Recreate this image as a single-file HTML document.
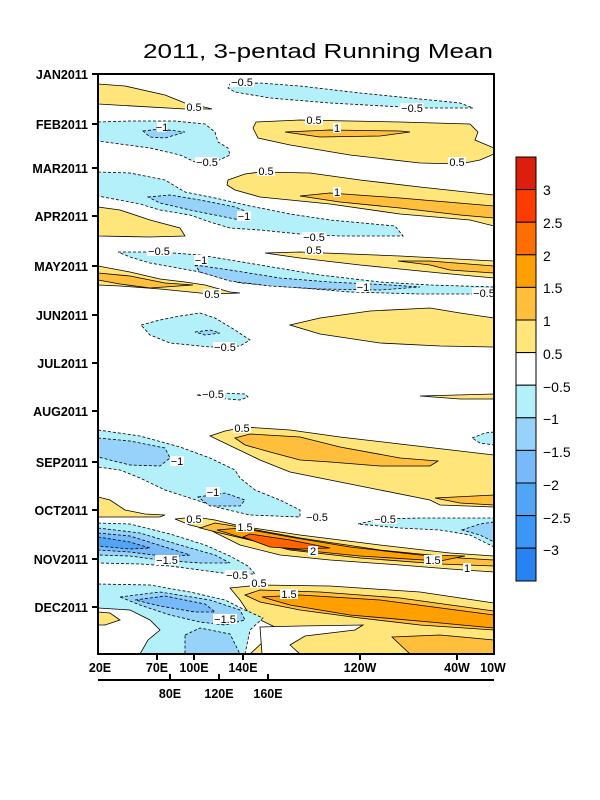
<!DOCTYPE html>
<html><head><meta charset="utf-8"><style>
body{margin:0;background:#fff;}
svg{display:block;font-family:"Liberation Sans",sans-serif;}
.n{stroke:#000;stroke-width:0.8;stroke-dasharray:3,2;}
.p{stroke:#000;stroke-width:0.8;}
.lb{font-size:11px;}
</style></head><body>
<svg width="600" height="800" viewBox="0 0 600 800">
<rect width="600" height="800" fill="#fff"/>
<text x="318" y="58" text-anchor="middle" font-size="20" textLength="350" lengthAdjust="spacingAndGlyphs">2011, 3-pentad Running Mean</text>
<defs><clipPath id="c"><rect x="98" y="74" width="396" height="580"/></clipPath></defs>
<g clip-path="url(#c)">
<!-- yellow top-left -->
<polygon class="p" fill="#ffe57a" points="98,84 125,86 165,95 185,103 200,106 212,109 185,109 98,104"/>
<polygon class="n" fill="#b4f0fa" points="230,84 260,83 300,86 360,93 430,100 460,103 473,108 420,108 330,103 270,98 235,92 228,88"/>
<polygon class="p" fill="#ffe57a" points="256,122 300,120 400,122 470,124 478,132 475,140 494,148 494,154 480,160 460,164 420,163 350,155 290,145 258,138 253,128"/>
<polygon class="p" fill="#ffbe3c" points="285,132 330,130 400,131 410,132 380,136 320,137"/>
<polygon class="n" fill="#b4f0fa" points="98,122 130,121 175,121 205,124 215,132 218,142 228,148 230,155 215,162 195,162 180,155 150,148 120,144 98,141"/>
<polygon class="n" fill="#96d2fa" points="143,131 160,129 185,132 165,138 150,137"/>
<polygon class="p" fill="#ffe57a" points="228,180 245,174 260,172 310,173 360,180 420,187 494,195 494,226 470,220 400,214 330,204 260,197 235,190 227,185"/>
<polygon class="p" fill="#ffbe3c" points="300,196 330,193 400,198 494,206 494,218 460,215 400,208 340,202"/>
<polygon class="n" fill="#b4f0fa" points="98,172 130,173 165,180 185,192 215,198 250,206 290,214 330,220 395,226 403,236 340,236 300,234 260,230 230,228 210,222 190,215 160,210 140,204 98,196"/>
<polygon class="n" fill="#96d2fa" points="148,197 170,195 200,200 235,207 250,213 240,220 215,215 190,210 160,203"/>
<polygon class="p" fill="#ffe57a" points="98,207 120,210 150,220 180,228 185,236 150,237 98,236"/>
<polygon class="p" fill="#ffe57a" points="265,253 300,252 400,256 494,261 494,278 440,273 360,265 300,258"/>
<polygon class="p" fill="#ffbe3c" points="398,261 430,261 494,266 494,273 450,270 430,265"/>
<polygon class="n" fill="#b4f0fa" points="118,252 160,252 200,255 260,265 320,275 380,282 430,285 494,287 494,294 420,294 350,292 290,287 240,283 200,272 150,263 130,257"/>
<polygon class="n" fill="#96d2fa" points="195,265 230,270 280,278 330,282 390,285 420,287 380,290 320,289 270,286 230,281 200,272"/>
<polygon class="p" fill="#ffe57a" points="98,266 130,272 160,279 185,282 205,285 230,292 240,293 210,294 160,289 120,286 98,285"/>
<polygon class="p" fill="#ffbe3c" points="98,273 130,276 165,283 193,285 150,288 120,284 98,280"/>
<polygon class="n" fill="#b4f0fa" points="141,325 160,320 180,316 200,313 215,318 235,330 250,340 240,346 210,347 170,343 150,335"/>
<polygon class="n" fill="#96d2fa" points="195,332 210,330 220,333 205,335"/>
<polygon class="p" fill="#ffe57a" points="290,325 320,318 370,311 430,308 460,313 494,318 494,347 440,346 380,343 320,334"/>
<polygon class="n" fill="#b4f0fa" points="197,395 220,393 245,394 248,397 240,400 215,398"/>
<polygon class="p" fill="#ffe57a" points="420,396 494,394 494,399 460,399"/>
<!-- Sep -->
<polygon class="n" fill="#b4f0fa" points="98,430 140,436 180,447 210,458 235,470 240,478 255,490 280,500 300,510 300,517 250,515 220,508 190,498 165,490 140,478 120,470 98,467"/>
<polygon class="n" fill="#96d2fa" points="98,438 130,441 165,448 170,458 160,466 130,465 98,457"/>
<polygon class="n" fill="#96d2fa" points="198,497 225,493 245,500 240,506 210,506"/>
<polygon class="n" fill="#b4f0fa" points="472,438 485,433 494,432 494,445 480,443"/>
<polygon class="p" fill="#ffe57a" points="210,436 225,431 245,427 290,430 340,437 400,444 494,455 494,507 440,505 430,500 380,490 330,480 290,472 260,460 235,448"/>
<polygon class="p" fill="#ffbe3c" points="235,438 250,434 300,437 340,447 400,458 438,461 430,466 380,466 330,462 300,460 270,452 245,445"/>
<polygon class="p" fill="#ffbe3c" points="435,498 494,495 494,505 460,503"/>
<polygon class="p" fill="#ffe57a" points="98,497 110,500 125,510 145,514 165,515 160,517 98,517"/>
<polygon class="n" fill="#b4f0fa" points="358,524 380,519 420,518 494,518 494,547 470,535 440,530 400,528"/>
<polygon class="n" fill="#96d2fa" points="462,530 480,524 494,522 494,542 480,535"/>
<!-- Nov orange -->
<polygon class="p" fill="#ffe57a" points="175,519 195,517 215,520 240,526 300,535 380,545 450,553 494,556 494,572 450,569 400,565 330,560 280,555 240,545 210,530 190,525"/>
<polygon class="p" fill="#ffbe3c" points="200,528 215,523 240,527 300,538 380,550 460,558 494,560 494,566 440,564 360,558 290,550 250,540 220,533"/>
<polygon class="p" fill="#ffa000" points="217,530 240,528 290,537 350,547 420,555 465,556 440,561 360,556 290,549 250,540"/>
<polygon class="p" fill="#ff6400" points="243,537 250,534 290,540 330,548 300,549 270,547"/>
<!-- Nov blue -->
<polygon class="n" fill="#b4f0fa" points="98,523 130,524 170,534 205,545 230,556 248,566 255,574 230,574 200,570 170,566 140,564 98,563"/>
<polygon class="n" fill="#96d2fa" points="98,528 140,533 180,545 215,555 230,563 200,563 160,560 130,556 98,555"/>
<polygon class="n" fill="#78b9fa" points="98,533 130,536 165,547 190,555 170,557 130,552 98,550"/>
<polygon class="n" fill="#50a5f5" points="98,537 130,542 150,548 130,549 98,546"/>
<!-- Dec -->
<polygon class="p" fill="#ffe57a" points="230,588 260,585 330,586 420,592 494,603 494,654 250,654 265,640 275,627 250,615 240,600"/>
<polygon class="p" fill="#fff" points="260,627 300,626 363,625 355,630 305,636 290,645 300,654 262,654"/>
<polygon class="p" fill="#ffbe3c" points="245,595 260,590 320,592 400,598 494,611 494,630 420,625 360,618 300,610 260,602"/>
<polygon class="p" fill="#ffbe3c" points="392,637 440,635 494,640 494,654 410,654"/>
<polygon class="p" fill="#ffa000" points="262,597 300,595 380,600 494,615 494,628 430,622 350,615 290,605"/>
<polygon class="n" fill="#b4f0fa" points="98,584 150,585 190,592 225,600 245,610 263,618 250,630 245,654 98,654"/>
<polygon class="p" fill="#fff" points="98,608 130,610 150,620 160,630 148,640 140,654 98,654"/>
<polygon class="p" fill="#ffe57a" points="98,612 110,613 120,620 105,625 98,625"/>
<polygon class="n" fill="#96d2fa" points="120,597 160,592 210,600 240,610 245,620 225,625 200,622 170,615 140,605"/>
<polygon class="n" fill="#96d2fa" points="185,635 200,628 230,634 240,654 185,654"/>
<polygon class="n" fill="#78b9fa" points="135,600 165,596 205,604 215,612 195,612 160,606"/>
</g>
<!-- contour labels -->
<g class="lb" text-anchor="middle">
<g fill="#fff"><rect x="230" y="77" width="24" height="10"/><rect x="400" y="103" width="24" height="10"/><rect x="185" y="102" width="18" height="10"/><rect x="305" y="115" width="18" height="10"/><rect x="333" y="123" width="8" height="10"/><rect x="157" y="122" width="10" height="10"/><rect x="195" y="157" width="24" height="10"/><rect x="448" y="157" width="18" height="10"/><rect x="257" y="166" width="18" height="10"/><rect x="333" y="187" width="8" height="10"/><rect x="237" y="211" width="14" height="10"/><rect x="302" y="232" width="24" height="10"/><rect x="305" y="245" width="18" height="10"/><rect x="147" y="246" width="24" height="10"/><rect x="194" y="255" width="14" height="10"/><rect x="356" y="282" width="14" height="10"/><rect x="472" y="288" width="24" height="10"/><rect x="203" y="289" width="18" height="10"/><rect x="213" y="342" width="24" height="10"/><rect x="201" y="389" width="24" height="10"/><rect x="233" y="423" width="18" height="10"/><rect x="170" y="456" width="14" height="10"/><rect x="206" y="487" width="14" height="10"/><rect x="305" y="512" width="24" height="10"/><rect x="373" y="514" width="24" height="10"/><rect x="185" y="514" width="18" height="10"/><rect x="236" y="522" width="18" height="10"/><rect x="308" y="546" width="10" height="10"/><rect x="424" y="555" width="18" height="10"/><rect x="463" y="563" width="8" height="10"/><rect x="155" y="555" width="24" height="10"/><rect x="225" y="570" width="24" height="10"/><rect x="250" y="578" width="18" height="10"/><rect x="280" y="589" width="18" height="10"/><rect x="213" y="614" width="24" height="10"/></g>
<text x="242" y="86">−0.5</text><text x="412" y="112">−0.5</text><text x="194" y="111">0.5</text><text x="314" y="124">0.5</text><text x="337" y="132">1</text><text x="162" y="131">−1</text><text x="207" y="166">−0.5</text><text x="457" y="166">0.5</text><text x="266" y="175">0.5</text><text x="337" y="196">1</text><text x="244" y="220">−1</text><text x="314" y="241">−0.5</text><text x="314" y="254">0.5</text><text x="159" y="255">−0.5</text><text x="201" y="264">−1</text><text x="363" y="291">−1</text><text x="484" y="297">−0.5</text><text x="212" y="298">0.5</text><text x="225" y="351">−0.5</text><text x="213" y="398">−0.5</text><text x="242" y="432">0.5</text><text x="177" y="465">−1</text><text x="213" y="496">−1</text><text x="317" y="521">−0.5</text><text x="385" y="523">−0.5</text><text x="194" y="523">0.5</text><text x="245" y="531">1.5</text><text x="313" y="555">2</text><text x="433" y="564">1.5</text><text x="467" y="572">1</text><text x="167" y="564">−1.5</text><text x="237" y="579">−0.5</text><text x="259" y="587">0.5</text><text x="289" y="598">1.5</text><text x="225" y="623">−1.5</text>
</g>
<!-- frame -->
<rect x="98" y="74" width="396" height="580" fill="none" stroke="#000" stroke-width="2"/>
<g stroke="#000" stroke-width="2">
<line x1="92" y1="74" x2="98" y2="74"/><line x1="92" y1="124" x2="98" y2="124"/><line x1="92" y1="168" x2="98" y2="168"/><line x1="92" y1="216" x2="98" y2="216"/><line x1="92" y1="266" x2="98" y2="266"/><line x1="92" y1="315" x2="98" y2="315"/><line x1="92" y1="363" x2="98" y2="363"/><line x1="92" y1="411" x2="98" y2="411"/><line x1="92" y1="462" x2="98" y2="462"/><line x1="92" y1="510" x2="98" y2="510"/><line x1="92" y1="559" x2="98" y2="559"/><line x1="92" y1="607" x2="98" y2="607"/>
<line x1="157" y1="654" x2="157" y2="660"/><line x1="194" y1="654" x2="194" y2="660"/><line x1="243" y1="654" x2="243" y2="660"/><line x1="360" y1="654" x2="360" y2="660"/><line x1="457" y1="654" x2="457" y2="660"/>
<line x1="98" y1="680" x2="494" y2="680"/>
<line x1="170" y1="680" x2="170" y2="674"/><line x1="219" y1="680" x2="219" y2="674"/><line x1="268" y1="680" x2="268" y2="674"/>
</g>
<g font-size="12.5" font-weight="bold" text-anchor="end">
<text x="88" y="79">JAN2011</text><text x="88" y="129">FEB2011</text><text x="88" y="173">MAR2011</text><text x="88" y="221">APR2011</text><text x="88" y="271">MAY2011</text><text x="88" y="320">JUN2011</text><text x="88" y="368">JUL2011</text><text x="88" y="416">AUG2011</text><text x="88" y="467">SEP2011</text><text x="88" y="515">OCT2011</text><text x="88" y="564">NOV2011</text><text x="88" y="612">DEC2011</text>
</g>
<g font-size="12.5" font-weight="bold" text-anchor="middle">
<text x="100" y="672">20E</text><text x="157" y="672">70E</text><text x="194" y="672">100E</text><text x="243" y="672">140E</text><text x="360" y="672">120W</text><text x="457" y="672">40W</text><text x="493" y="672">10W</text>
<text x="170" y="698">80E</text><text x="219" y="698">120E</text><text x="268" y="698">160E</text>
</g>
<!-- colorbar -->
<g stroke="#000" stroke-width="1">
<rect x="516" y="157" width="20" height="32.6" fill="#dc1e0e"/>
<rect x="516" y="189.6" width="20" height="32.6" fill="#ff3c00"/>
<rect x="516" y="222.2" width="20" height="32.6" fill="#ff6e00"/>
<rect x="516" y="254.8" width="20" height="32.6" fill="#ffa000"/>
<rect x="516" y="287.4" width="20" height="32.6" fill="#ffbe3c"/>
<rect x="516" y="320" width="20" height="32.6" fill="#ffe57a"/>
<rect x="516" y="352.6" width="20" height="32.6" fill="#fff"/>
<rect x="516" y="385.2" width="20" height="32.6" fill="#b4f0fa"/>
<rect x="516" y="417.8" width="20" height="32.6" fill="#96d2fa"/>
<rect x="516" y="450.4" width="20" height="32.6" fill="#78b9fa"/>
<rect x="516" y="483" width="20" height="32.6" fill="#50a5f5"/>
<rect x="516" y="515.6" width="20" height="32.6" fill="#3c96f5"/>
<rect x="516" y="548.2" width="20" height="32.8" fill="#2882f0"/>
</g>
<g font-size="14">
<text x="543" y="195">3</text><text x="543" y="228">2.5</text><text x="543" y="261">2</text><text x="543" y="293">1.5</text><text x="543" y="326">1</text><text x="543" y="359">0.5</text><text x="543" y="392">−0.5</text><text x="543" y="424">−1</text><text x="543" y="457">−1.5</text><text x="543" y="490">−2</text><text x="543" y="523">−2.5</text><text x="543" y="555">−3</text>
</g>
</svg>
</body></html>
